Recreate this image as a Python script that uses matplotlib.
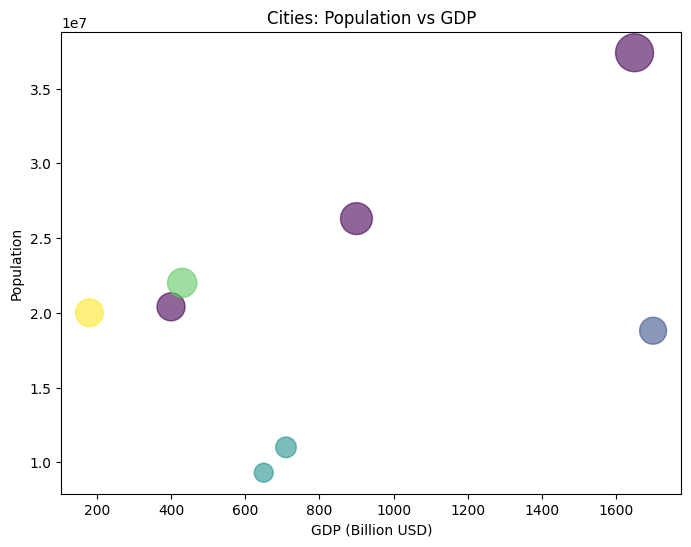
import matplotlib
matplotlib.use("Agg")
import matplotlib.pyplot as plt

# city data
cities = ["Tokyo", "Shanghai", "Mumbai", "Sao Paulo", "Lagos", "New York", "Paris", "London"]
gdp = [1650, 900, 400, 430, 180, 1700, 710, 650]  # billion USD
population = [37.4e6, 26.3e6, 20.4e6, 22.0e6, 20.0e6, 18.8e6, 11.0e6, 9.3e6]
continent_code = [0, 0, 0, 3, 4, 1, 2, 2]  # Asia, N. America, Europe, S. America, Africa

sizes = [p / 5e4 for p in population]

plt.figure(figsize=(8, 6))
plt.scatter(gdp, population, s=sizes, c=continent_code, cmap="viridis", alpha=0.6)
plt.xlabel("GDP (Billion USD)")
plt.ylabel("Population")
plt.title("Cities: Population vs GDP")

plt.savefig("out.png", bbox_inches="tight")
